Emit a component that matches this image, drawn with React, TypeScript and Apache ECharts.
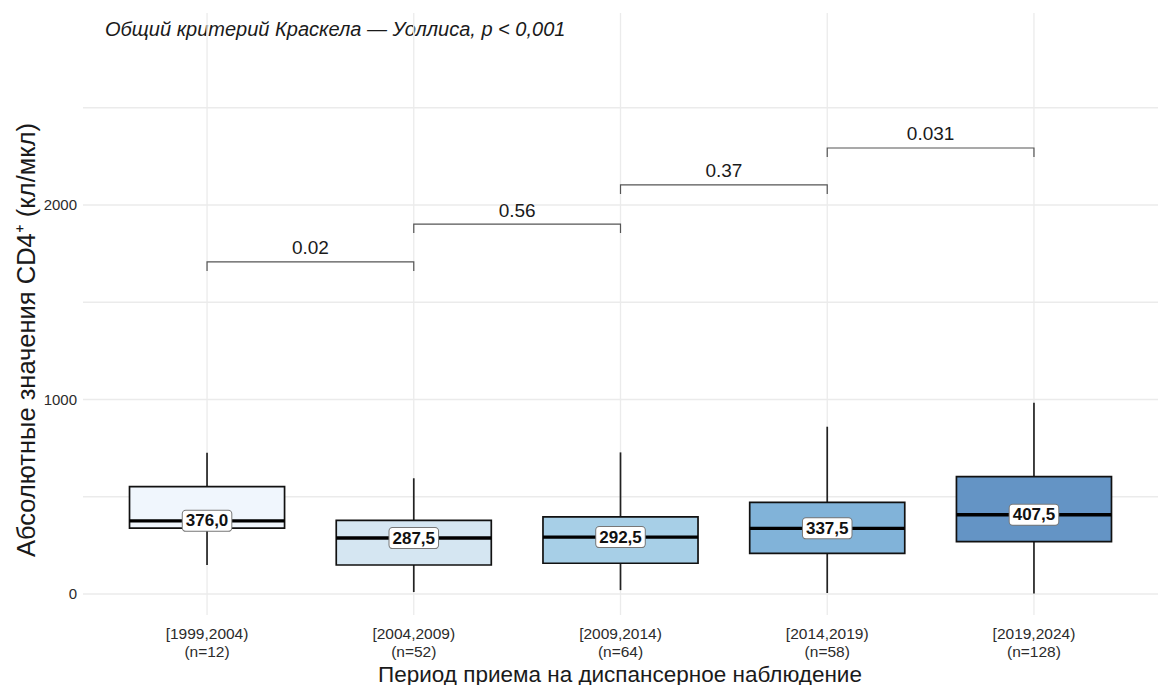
import React, { useEffect, useRef } from "react";
import * as echarts from "echarts";

// Admission periods and group sizes
const periods = ["[1999,2004)", "[2004,2009)", "[2009,2014)", "[2014,2019)", "[2019,2024)"];
const counts = [12, 52, 64, 58, 128];

// CD4+ absolute counts (cells/µl): five-number summaries per period
const whiskerLow = [149, 10, 20, 5, 3];
const q1 = [339, 149, 158, 209, 269];
const medians = [376.0, 287.5, 292.5, 337.5, 407.5];
const q3 = [552, 379, 396, 471, 603];
const whiskerHigh = [726, 595, 728, 860, 983];

// Pairwise comparisons between neighbouring periods
const pairs = [
  [0, 1],
  [1, 2],
  [2, 3],
  [3, 4],
];
const pValues = ["0.02", "0.56", "0.37", "0.031"];
const bracketLevels = [1707, 1902, 2103, 2293];

const yTicks = [0, 1000, 2000];
const yGrid = [0, 500, 1000, 1500, 2000, 2500];

const boxColors = ["#f0f6fd", "#d5e6f2", "#a7cfe7", "#81b3d9", "#6494c5"];

const FONT = "'Liberation Sans', Arial, sans-serif";

export default function App() {
  const ref = useRef<HTMLDivElement>(null);

  useEffect(() => {
    if (!ref.current) return;
    const chart = echarts.init(ref.current, null, { renderer: "svg" });

    const boxData = periods.map((_, i) => [i, whiskerLow[i], q1[i], medians[i], q3[i], whiskerHigh[i]]);
    const bracketData = pairs.map((p, k) => [p[0], p[1], bracketLevels[k]]);

    const option: any = {
      animation: false,
      backgroundColor: "#ffffff",
      grid: { left: 83, right: 8, top: 13, bottom: 70, containLabel: false },
      xAxis: {
        type: "value",
        min: -0.6,
        max: 4.6,
        axisLine: { show: false },
        axisTick: { show: false },
        splitLine: { show: false },
        axisLabel: {
          customValues: [0, 1, 2, 3, 4],
          formatter: (v: number) => `${periods[Math.round(v)]}\n(n=${counts[Math.round(v)]})`,
          color: "#2b2b2b",
          fontFamily: FONT,
          fontSize: 15.5,
          lineHeight: 18,
          margin: 9,
        },
      },
      yAxis: {
        type: "value",
        min: -108,
        max: 2987,
        axisLine: { show: false },
        axisTick: { show: false },
        splitLine: { show: false },
        axisLabel: {
          customValues: yTicks,
          formatter: (v: number) => String(v),
          color: "#2b2b2b",
          fontFamily: FONT,
          fontSize: 15,
          margin: 6,
        },
      },
      graphic: [
        {
          type: "text",
          left: 105,
          top: 19,
          style: {
            text: "Общий критерий Краскела — Уоллиса, p < 0,001",
            font: `italic 20px ${FONT}`,
            fill: "#1a1a1a",
          },
        },
        {
          type: "text",
          x: 620,
          y: 674,
          style: {
            text: "Период приема на диспансерное наблюдение",
            font: `22.5px ${FONT}`,
            fill: "#1a1a1a",
            align: "center",
            verticalAlign: "middle",
          },
        },
        {
          type: "text",
          x: 26,
          y: 340,
          rotation: Math.PI / 2,
          style: {
            text: "Абсолютные значения CD4⁺ (кл/мкл)",
            font: `25.5px ${FONT}`,
            fill: "#1a1a1a",
            align: "center",
            verticalAlign: "middle",
          },
        },
      ],
      series: [
        {
          // horizontal grid lines
          type: "custom",
          silent: true,
          z: 0,
          data: yGrid.map((v) => [v]),
          renderItem: (params: any, api: any) => {
            const cs = params.coordSys;
            const y = api.coord([0, api.value(0)])[1];
            return {
              type: "line",
              shape: { x1: cs.x, y1: y, x2: cs.x + cs.width, y2: y },
              style: { stroke: "#ebebeb", lineWidth: 1.3 },
            };
          },
        },
        {
          // vertical grid lines at each period
          type: "custom",
          silent: true,
          z: 0,
          data: periods.map((_, i) => [i]),
          renderItem: (params: any, api: any) => {
            const cs = params.coordSys;
            const x = api.coord([api.value(0), 0])[0];
            return {
              type: "line",
              shape: { x1: x, y1: cs.y, x2: x, y2: cs.y + cs.height },
              style: { stroke: "#ebebeb", lineWidth: 1.3 },
            };
          },
        },
        {
          // box plots
          type: "custom",
          z: 2,
          data: boxData,
          encode: { x: 0, y: [1, 5] },
          renderItem: (params: any, api: any) => {
            const i = api.value(0);
            const x = api.coord([i, 0])[0];
            const hw = api.size([0.75, 0])[0] / 2;
            const yLo = api.coord([i, api.value(1)])[1];
            const yQ1 = api.coord([i, api.value(2)])[1];
            const yMed = api.coord([i, api.value(3)])[1];
            const yQ3 = api.coord([i, api.value(4)])[1];
            const yHi = api.coord([i, api.value(5)])[1];
            const label = Number(api.value(3)).toFixed(1).replace(".", ",");
            return {
              type: "group",
              children: [
                {
                  type: "line",
                  shape: { x1: x, y1: yHi, x2: x, y2: yQ3 },
                  style: { stroke: "#222222", lineWidth: 1.7 },
                },
                {
                  type: "line",
                  shape: { x1: x, y1: yQ1, x2: x, y2: yLo },
                  style: { stroke: "#222222", lineWidth: 1.7 },
                },
                {
                  type: "rect",
                  shape: { x: x - hw, y: yQ3, width: hw * 2, height: yQ1 - yQ3 },
                  style: { fill: boxColors[i], stroke: "#111111", lineWidth: 1.7 },
                },
                {
                  type: "line",
                  shape: { x1: x - hw, y1: yMed, x2: x + hw, y2: yMed },
                  style: { stroke: "#000000", lineWidth: 3.4 },
                },
                {
                  type: "text",
                  x,
                  y: yMed,
                  z2: 5,
                  style: {
                    text: label,
                    font: `bold 17px ${FONT}`,
                    fill: "#111111",
                    align: "center",
                    verticalAlign: "middle",
                    backgroundColor: "#ffffff",
                    borderColor: "#777777",
                    borderWidth: 1,
                    borderRadius: 3,
                    padding: [2, 3, 1, 3],
                  },
                },
              ],
            };
          },
        },
        {
          // pairwise comparison brackets
          type: "custom",
          z: 3,
          data: bracketData,
          renderItem: (params: any, api: any) => {
            const k = params.dataIndex;
            const [xa, y] = api.coord([api.value(0), api.value(2)]);
            const xb = api.coord([api.value(1), api.value(2)])[0];
            return {
              type: "group",
              children: [
                {
                  type: "polyline",
                  shape: {
                    points: [
                      [xa, y + 9],
                      [xa, y],
                      [xb, y],
                      [xb, y + 9],
                    ],
                  },
                  style: { stroke: "#555555", lineWidth: 1.2, fill: "none" },
                },
                {
                  type: "text",
                  x: (xa + xb) / 2,
                  y: y - 14,
                  style: {
                    text: pValues[k],
                    font: `19px ${FONT}`,
                    fill: "#1a1a1a",
                    align: "center",
                    verticalAlign: "middle",
                  },
                },
              ],
            };
          },
        },
      ],
    };

    chart.setOption(option);
    return () => chart.dispose();
  }, []);

  return (
    <div
      ref={ref}
      style={{ position: "absolute", left: 0, top: 0, width: 1166, height: 685, background: "#fff" }}
    />
  );
}
